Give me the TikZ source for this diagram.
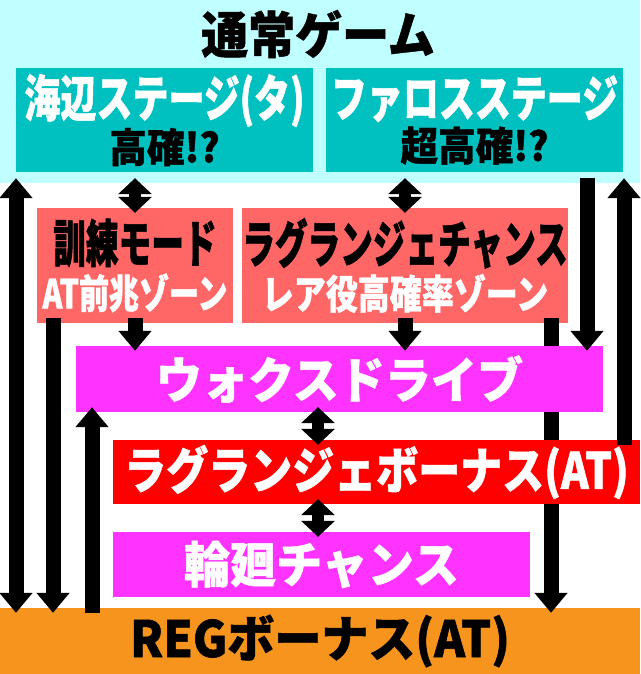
\documentclass[tikz,border=0pt]{standalone}
\usepackage{fontspec}
\usepackage{xcolor}
\usetikzlibrary{arrows.meta}
\newfontfamily\widejp{Noto Sans CJK JP}[FakeStretch=0.94, FakeBold=1]
\newfontfamily\bonusjp{Noto Sans CJK JP}[FakeStretch=0.84, FakeBold=1]
\newfontfamily\stagejp{Noto Sans CJK JP}[FakeStretch=0.72, FakeBold=1]
\newfontfamily\zonejp{Noto Sans CJK JP}[FakeStretch=0.64, FakeBold=1]
\newfontfamily\subjp{Noto Sans CJK JP}[FakeStretch=0.8, FakeBold=1]
\newfontfamily\tightjp{Noto Sans CJK JP}[FakeStretch=0.75, FakeBold=1]
\definecolor{bandcolor}{RGB}{192,255,255}
\definecolor{stagecolor}{RGB}{0,192,192}
\definecolor{zonecolor}{RGB}{255,102,102}
\definecolor{drivecolor}{RGB}{255,51,255}
\definecolor{bonuscolor}{RGB}{255,0,0}
\definecolor{regcolor}{RGB}{247,148,29}
\newcommand{\stagehead}[1]{{\stagejp\bfseries\fontsize{50}{50}\selectfont\color{white}#1}}
\newcommand{\stagesub}[1]{{\widejp\bfseries\fontsize{40}{40}\selectfont #1}}
\newcommand{\zonehead}[1]{{\zonejp\bfseries\fontsize{51}{51}\selectfont #1}}
\newcommand{\zonesub}[1]{{\subjp\bfseries\fontsize{40}{40}\selectfont\color{white}#1}}
\newcommand{\zonesubtight}[1]{{\tightjp\bfseries\fontsize{40}{40}\selectfont\color{white}#1}}
\tikzset{
    box/.style = {rectangle, inner sep=0pt, align=center},
    band/.style = {box, fill=bandcolor, minimum width=640pt, minimum height=183pt},
    title/.style = {font=\widejp\bfseries\fontsize{50}{50}\selectfont},
    stage/.style = {box, fill=stagecolor, minimum width=297pt, minimum height=104pt, font=\fontsize{40}{44}\selectfont},
    zone/.style = {box, fill=zonecolor, minimum height=115pt, font=\fontsize{40}{46}\selectfont},
    drive/.style = {box, fill=drivecolor, text=white, font=\widejp\bfseries\fontsize{49}{49}\selectfont},
    bonus/.style = {box, fill=bonuscolor, text=white, font=\bonusjp\bfseries\fontsize{50}{50}\selectfont},
    reg/.style = {box, fill=regcolor, font=\widejp\bfseries\fontsize{50}{50}\selectfont},
    flow/.style = {line width=15pt, -{Triangle[width=32pt, length=20pt]}, shorten <=-5pt, shorten >=-5pt},
    both flow/.style = {flow, {Triangle[width=32pt, length=20pt]}-{Triangle[width=32pt, length=20pt]}},
    twoway/.style = {line width=12pt, {Triangle[width=33pt, length=16pt]}-{Triangle[width=33pt, length=16pt]}, shorten <=-5pt, shorten >=-5pt}
}
\begin{document}
\begin{tikzpicture}[x=1pt, y=-1pt]
    % canvas
    \useasboundingbox (0,0) rectangle (640,674);
    \fill[white] (0,0) rectangle (640,674);
    % normal game
    \node[band] (normal) at (320,91.5) {};
    \node[title] (title) at (318,34) {通常ゲーム};
    % stages
    \node[stage] (umibe) at (164.5,120) {\stagehead{海辺ステージ(タ)}\\\stagesub{高確!?}};
    \node[stage] (pharos) at (474.5,120) {\stagehead{ファロスステージ}\\\stagesub{超高確!?}};
    % zones
    \node[zone, minimum width=196pt] (kunren) at (135,265.5) {\zonehead{訓練モード}\\\zonesubtight{AT前兆ゾーン}};
    \node[zone, minimum width=324pt] (lagchance) at (405,265.5) {\zonehead{ラグランジェチャンス}\\\zonesub{レア役高確率ゾーン}};
    % REG
    \node[reg, minimum width=640pt, minimum height=66pt] (reg) at (320,641) {REGボーナス(AT)};
    % lanes
    \foreach \x in {16,53,92,135,318,405,551,587,624}
        \coordinate (lane\x) at (\x,0);
    % long arrow behind the lower boxes
    \draw[flow] (lagchance.south -| lane551) -- (reg.north -| lane551);
    % lower boxes
    \node[drive, minimum width=527pt, minimum height=66pt] (wox) at (339.5,379) {ウォクスドライブ};
    \node[bonus, minimum width=527pt, minimum height=64pt] (lagbonus) at (376.5,472) {ラグランジェボーナス(AT)};
    \node[drive, minimum width=417pt, minimum height=65pt] (rinne) at (321.5,564.5) {輪廻チャンス};
    % arrows
    \draw[both flow] (normal.south -| lane16) -- (reg.north -| lane16);
    \draw[flow] (kunren.south -| lane53) -- (reg.north -| lane53);
    \draw[flow] (reg.north -| lane92) -- (wox.south -| lane92);
    \draw[flow] (kunren.south -| lane135) -- (wox.north -| lane135);
    \draw[flow] (lagchance.south -| lane405) -- (wox.north -| lane405);
    \draw[flow] (normal.south -| lane587) -- (wox.north -| lane587);
    \draw[flow] (lagbonus.north -| lane624) -- (normal.south -| lane624);
    % two-way arrows
    \draw[twoway] (normal.south -| lane135) -- (kunren.north -| lane135);
    \draw[twoway] (normal.south -| lane405) -- (lagchance.north -| lane405);
    \draw[twoway] (wox.south -| lane318) -- (lagbonus.north -| lane318);
    \draw[twoway] (lagbonus.south -| lane318) -- (rinne.north -| lane318);
\end{tikzpicture}
\end{document}
